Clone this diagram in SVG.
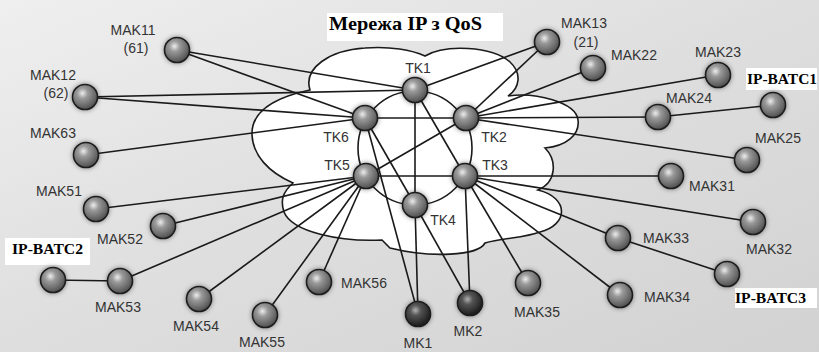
<svg xmlns="http://www.w3.org/2000/svg" width="819" height="352" viewBox="0 0 819 352">
<defs>
<linearGradient id="bg" x1="0" y1="0" x2="1" y2="1">
<stop offset="0" stop-color="#efefef"/>
<stop offset="0.5" stop-color="#dedede"/>
<stop offset="1" stop-color="#d2d2d2"/>
</linearGradient>
<radialGradient id="gBall" cx="0.4" cy="0.35" r="0.7">
<stop offset="0" stop-color="#ececec"/>
<stop offset="0.3" stop-color="#9a9a9a"/>
<stop offset="0.75" stop-color="#666"/>
<stop offset="1" stop-color="#474747"/>
</radialGradient>
<radialGradient id="gDark" cx="0.4" cy="0.35" r="0.7">
<stop offset="0" stop-color="#b0b0b0"/>
<stop offset="0.3" stop-color="#555"/>
<stop offset="1" stop-color="#141414"/>
</radialGradient>
<filter id="halo" x="-50%" y="-50%" width="200%" height="200%">
<feDropShadow dx="0" dy="0" stdDeviation="2.5" flood-color="#000" flood-opacity="0.45"/>
</filter>
<style>
.ball{fill:url(#gBall);stroke:#1e1e1e;stroke-width:1.6;filter:url(#halo)}
.dark{fill:url(#gDark)}
.lbl{font-family:"Liberation Sans",Arial,sans-serif;font-size:14px;fill:#333;text-anchor:middle}
.ser{font-family:"Liberation Serif","Times New Roman",serif;font-weight:bold;fill:#000}
.edge{stroke:#1a1a1a;stroke-width:1.6;fill:none}
.box{fill:#fff}
</style>
</defs>
<rect x="0" y="0" width="819" height="352" fill="url(#bg)"/>
<g id="cloud">
<path d="M310,90 C303,68 330,50 365,48 C390,46 412,50 425,56 C445,44 492,46 510,62 C522,73 520,88 508,96 C535,92 576,102 578,120 C580,135 566,146 545,148 C557,160 557,182 538,190 C570,198 568,225 540,232 C525,238 500,238 485,243 C478,256 430,258 390,248 L382,240 C340,242 292,232 284,212 C280,200 283,192 293,183 C268,172 253,155 252,135 C251,112 272,98 310,90 Z" fill="#fff" stroke="#1a1a1a" stroke-width="1.6"/>
</g>
<g id="title">
<rect class="box" x="327" y="13" width="176" height="28"/>
<text class="ser" x="329" y="30" font-size="19" textLength="153" lengthAdjust="spacingAndGlyphs">Мережа IP з QoS</text>
</g>
<g id="connectors">
<circle class="edge" cx="415" cy="148" r="57"/>
<line class="edge" x1="365" y1="118" x2="466" y2="118"/>
<line class="edge" x1="366" y1="176" x2="465" y2="176"/>
<line class="edge" x1="415" y1="90" x2="415" y2="205"/>
<line class="edge" x1="415" y1="90" x2="465" y2="176"/>
<line class="edge" x1="366" y1="176" x2="466" y2="118"/>
<line class="edge" x1="365" y1="118" x2="415" y2="205"/>
<line class="edge" x1="365" y1="118" x2="418" y2="314"/>
<line class="edge" x1="415" y1="205" x2="418" y2="314"/>
<line class="edge" x1="415" y1="205" x2="470" y2="303"/>
<line class="edge" x1="465" y1="176" x2="470" y2="303"/>
<line class="edge" x1="177" y1="50" x2="415" y2="90"/>
<line class="edge" x1="177" y1="50" x2="365" y2="118"/>
<line class="edge" x1="85" y1="97" x2="415" y2="90"/>
<line class="edge" x1="85" y1="97" x2="365" y2="118"/>
<line class="edge" x1="86" y1="155" x2="365" y2="118"/>
<line class="edge" x1="415" y1="90" x2="547" y2="42"/>
<line class="edge" x1="466" y1="118" x2="547" y2="42"/>
<line class="edge" x1="466" y1="118" x2="593" y2="68"/>
<line class="edge" x1="466" y1="118" x2="718" y2="75"/>
<line class="edge" x1="466" y1="118" x2="658" y2="117"/>
<line class="edge" x1="466" y1="118" x2="747" y2="160"/>
<line class="edge" x1="658" y1="117" x2="773" y2="105"/>
<line class="edge" x1="465" y1="176" x2="671" y2="176"/>
<line class="edge" x1="465" y1="176" x2="753" y2="222"/>
<line class="edge" x1="465" y1="176" x2="618" y2="238"/>
<line class="edge" x1="465" y1="176" x2="620" y2="295"/>
<line class="edge" x1="465" y1="176" x2="528" y2="283"/>
<line class="edge" x1="618" y1="238" x2="727" y2="274"/>
<line class="edge" x1="366" y1="176" x2="96" y2="209"/>
<line class="edge" x1="366" y1="176" x2="163" y2="226"/>
<line class="edge" x1="366" y1="176" x2="120" y2="281"/>
<line class="edge" x1="366" y1="176" x2="199" y2="299"/>
<line class="edge" x1="366" y1="176" x2="265" y2="315"/>
<line class="edge" x1="366" y1="176" x2="319" y2="282"/>
<line class="edge" x1="53" y1="280" x2="120" y2="281"/>
</g>
<g id="TK1"><circle class="ball" cx="415" cy="90" r="12.5"/><text class="lbl" x="418" y="73">TK1</text></g>
<g id="TK6"><circle class="ball" cx="365" cy="118" r="12.5"/><text class="lbl" x="336" y="142">TK6</text></g>
<g id="TK2"><circle class="ball" cx="466" cy="118" r="12.5"/><text class="lbl" x="494" y="142">TK2</text></g>
<g id="TK5"><circle class="ball" cx="366" cy="176" r="12.5"/><text class="lbl" x="337" y="170">TK5</text></g>
<g id="TK3"><circle class="ball" cx="465" cy="176" r="12.5"/><text class="lbl" x="495" y="170">TK3</text></g>
<g id="TK4"><circle class="ball" cx="415" cy="205" r="12.5"/><text class="lbl" x="443" y="225">TK4</text></g>
<g id="MAK11"><circle class="ball" cx="177" cy="50" r="12.5"/><text class="lbl" x="133" y="35">MAK11</text><text class="lbl" x="136" y="53">(61)</text></g>
<g id="MAK12"><circle class="ball" cx="85" cy="97" r="12.5"/><text class="lbl" x="53" y="80">MAK12</text><text class="lbl" x="56" y="98">(62)</text></g>
<g id="MAK63"><circle class="ball" cx="86" cy="155" r="12.5"/><text class="lbl" x="53" y="138">MAK63</text></g>
<g id="MAK51"><circle class="ball" cx="96" cy="209" r="12.5"/><text class="lbl" x="59" y="196">MAK51</text></g>
<g id="MAK52"><circle class="ball" cx="163" cy="226" r="12.5"/><text class="lbl" x="120" y="244">MAK52</text></g>
<g id="IP-BATC2"><rect class="box" x="5" y="238" width="85" height="27"/><text class="ser" x="12" y="254" font-size="15" textLength="71" lengthAdjust="spacingAndGlyphs">IP-BATC2</text><circle class="ball" cx="53" cy="280" r="12.5"/></g>
<g id="MAK53"><circle class="ball" cx="120" cy="281" r="12.5"/><text class="lbl" x="118" y="312">MAK53</text></g>
<g id="MAK54"><circle class="ball" cx="199" cy="299" r="12.5"/><text class="lbl" x="196" y="331">MAK54</text></g>
<g id="MAK55"><circle class="ball" cx="265" cy="315" r="12.5"/><text class="lbl" x="262" y="347">MAK55</text></g>
<g id="MAK56"><circle class="ball" cx="319" cy="282" r="12.5"/><text class="lbl" x="364" y="288">MAK56</text></g>
<g id="MK1"><circle class="ball dark" cx="418" cy="314" r="12.5"/><text class="lbl" x="418" y="348">MK1</text></g>
<g id="MK2"><circle class="ball dark" cx="470" cy="303" r="12.5"/><text class="lbl" x="468" y="336">MK2</text></g>
<g id="MAK35"><circle class="ball" cx="528" cy="283" r="12.5"/><text class="lbl" x="537" y="317">MAK35</text></g>
<g id="MAK34"><circle class="ball" cx="620" cy="295" r="12.5"/><text class="lbl" x="667" y="302">MAK34</text></g>
<g id="MAK33"><circle class="ball" cx="618" cy="238" r="12.5"/><text class="lbl" x="666" y="243">MAK33</text></g>
<g id="IP-BATC3"><circle class="ball" cx="727" cy="274" r="12.5"/><rect class="box" x="735" y="288" width="82" height="20"/><text class="ser" x="735" y="303" font-size="15" textLength="71" lengthAdjust="spacingAndGlyphs">IP-BATC3</text></g>
<g id="MAK32"><circle class="ball" cx="753" cy="222" r="12.5"/><text class="lbl" x="769" y="254">MAK32</text></g>
<g id="MAK31"><circle class="ball" cx="671" cy="176" r="12.5"/><text class="lbl" x="712" y="191">MAK31</text></g>
<g id="MAK25"><circle class="ball" cx="747" cy="160" r="12.5"/><text class="lbl" x="778" y="143">MAK25</text></g>
<g id="IP-BATC1"><rect class="box" x="746" y="68" width="71" height="22"/><text class="ser" x="747" y="84" font-size="15" textLength="70" lengthAdjust="spacingAndGlyphs">IP-BATC1</text><circle class="ball" cx="773" cy="105" r="12.5"/></g>
<g id="MAK24"><circle class="ball" cx="658" cy="117" r="12.5"/><text class="lbl" x="689" y="103">MAK24</text></g>
<g id="MAK23"><circle class="ball" cx="718" cy="75" r="12.5"/><text class="lbl" x="718" y="57">MAK23</text></g>
<g id="MAK22"><circle class="ball" cx="593" cy="68" r="12.5"/><text class="lbl" x="634" y="60">MAK22</text></g>
<g id="MAK13"><circle class="ball" cx="547" cy="42" r="12.5"/><text class="lbl" x="584" y="28">MAK13</text><text class="lbl" x="586" y="47">(21)</text></g>
</svg>
